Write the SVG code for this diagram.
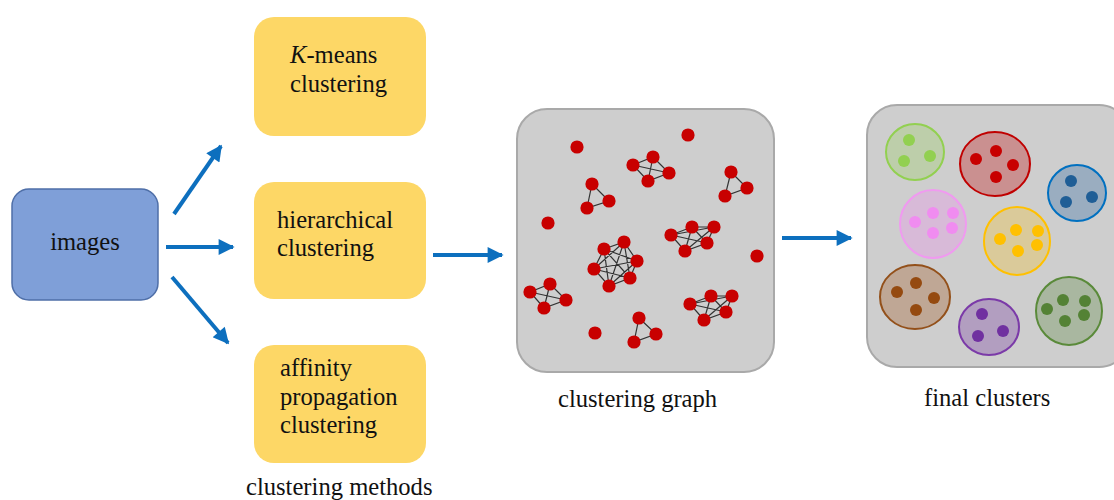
<svg xmlns="http://www.w3.org/2000/svg" width="1114" height="500" viewBox="0 0 1114 500">
  <defs>
    <marker id="arrowhead" viewBox="0 0 10 10" refX="9" refY="5" markerWidth="4.4" markerHeight="4" orient="auto" markerUnits="strokeWidth">
      <path d="M0,0 L10,5 L0,10 Z" fill="#0d6fbe"/>
    </marker>
    <style>
      .lbl { font-family: "Liberation Serif", "Times New Roman", serif; font-size: 24.6px; fill: #111; }
      .method { fill: #fdd766; }
      .flow { stroke: #0d6fbe; stroke-width: 4; fill: none; marker-end: url(#arrowhead); }
      .panel { fill: #cecece; stroke: #a9a9a9; stroke-width: 2; }
      .edge { stroke: #333; stroke-width: 1.2; fill: none; }
      .node { fill: #c80000; }
    </style>
  </defs>

  <!-- input node -->
  <g id="images">
    <rect x="12" y="189" width="146" height="111" rx="17" fill="#7f9fd8" stroke="#4f6fa8" stroke-width="1.5"/>
    <text class="lbl" x="85" y="250" text-anchor="middle">images</text>
  </g>

  <!-- clustering method nodes -->
  <g id="kmeans">
    <rect class="method" x="254" y="17" width="172" height="119" rx="20"/>
    <text class="lbl" x="290" y="63"><tspan font-style="italic">K</tspan>-means</text>
    <text class="lbl" x="290" y="92">clustering</text>
  </g>
  <g id="hierarchical">
    <rect class="method" x="254" y="182" width="172" height="117" rx="20"/>
    <text class="lbl" x="277" y="228">hierarchical</text>
    <text class="lbl" x="277" y="256">clustering</text>
  </g>
  <g id="affinity">
    <rect class="method" x="254" y="345" width="172" height="118" rx="20"/>
    <text class="lbl" x="280" y="376">affinity</text>
    <text class="lbl" x="280" y="405">propagation</text>
    <text class="lbl" x="280" y="433">clustering</text>
  </g>
  <text class="lbl" x="246" y="495">clustering methods</text>

  <!-- connectors -->
  <g id="connectors">
    <line class="flow" x1="174" y1="214" x2="221" y2="146"/>
    <line class="flow" x1="166" y1="247" x2="233" y2="247"/>
    <line class="flow" x1="172" y1="277" x2="228" y2="343"/>
    <line class="flow" x1="433" y1="255" x2="502" y2="255"/>
    <line class="flow" x1="782" y1="238" x2="851" y2="238"/>
  </g>

  <!-- clustering graph -->
  <g id="clustering-graph">
    <rect class="panel" x="517" y="109" width="257" height="263" rx="30"/>
    <g id="graph-edges">
      <!-- top four-clique -->
      <path class="edge" d="M633,165 L653,157 L669,173 L648,181 Z M633,165 L669,173 M653,157 L648,181"/>
      <!-- triangles -->
      <path class="edge" d="M592,184 L609,201 L587,208 Z"/>
      <path class="edge" d="M731,172 L747,188 L725,196 Z"/>
      <path class="edge" d="M639,318 L656,334 L634,342 Z"/>
      <!-- right five-clique -->
      <path class="edge" d="M671,235 L692,227 L714,227 L707,243 L685,251 Z M671,235 L714,227 M671,235 L707,243 M692,227 L707,243 M692,227 L685,251 M714,227 L685,251"/>
      <!-- central six-clique -->
      <path class="edge" d="M604,249 L624,242 L637,261 L630,278 L609,286 L594,269 Z M604,249 L637,261 M604,249 L630,278 M604,249 L609,286 M624,242 L630,278 M624,242 L609,286 M624,242 L594,269 M637,261 L609,286 M637,261 L594,269 M630,278 L594,269"/>
      <!-- lower-left four-clique -->
      <path class="edge" d="M530,292 L550,284 L566,300 L544,308 Z M530,292 L566,300 M550,284 L544,308"/>
      <!-- lower-right five-clique -->
      <path class="edge" d="M690,304 L711,296 L732,296 L726,312 L704,320 Z M690,304 L732,296 M690,304 L726,312 M711,296 L726,312 M711,296 L704,320 M732,296 L704,320"/>
    </g>
    <g id="graph-nodes">
      <circle class="node" cx="577" cy="147" r="6.6"/>
      <circle class="node" cx="688" cy="135" r="6.6"/>
      <circle class="node" cx="548" cy="223" r="6.6"/>
      <circle class="node" cx="757" cy="256" r="6.6"/>
      <circle class="node" cx="595" cy="333" r="6.6"/>

      <circle class="node" cx="633" cy="165" r="6.6"/>
      <circle class="node" cx="653" cy="157" r="6.6"/>
      <circle class="node" cx="669" cy="173" r="6.6"/>
      <circle class="node" cx="648" cy="181" r="6.6"/>

      <circle class="node" cx="592" cy="184" r="6.6"/>
      <circle class="node" cx="609" cy="201" r="6.6"/>
      <circle class="node" cx="587" cy="208" r="6.6"/>

      <circle class="node" cx="731" cy="172" r="6.6"/>
      <circle class="node" cx="747" cy="188" r="6.6"/>
      <circle class="node" cx="725" cy="196" r="6.6"/>

      <circle class="node" cx="671" cy="235" r="6.6"/>
      <circle class="node" cx="692" cy="227" r="6.6"/>
      <circle class="node" cx="714" cy="227" r="6.6"/>
      <circle class="node" cx="707" cy="243" r="6.6"/>
      <circle class="node" cx="685" cy="251" r="6.6"/>

      <circle class="node" cx="604" cy="249" r="6.6"/>
      <circle class="node" cx="624" cy="242" r="6.6"/>
      <circle class="node" cx="637" cy="261" r="6.6"/>
      <circle class="node" cx="630" cy="278" r="6.6"/>
      <circle class="node" cx="609" cy="286" r="6.6"/>
      <circle class="node" cx="594" cy="269" r="6.6"/>

      <circle class="node" cx="530" cy="292" r="6.6"/>
      <circle class="node" cx="550" cy="284" r="6.6"/>
      <circle class="node" cx="566" cy="300" r="6.6"/>
      <circle class="node" cx="544" cy="308" r="6.6"/>

      <circle class="node" cx="639" cy="318" r="6.6"/>
      <circle class="node" cx="656" cy="334" r="6.6"/>
      <circle class="node" cx="634" cy="342" r="6.6"/>

      <circle class="node" cx="690" cy="304" r="6.6"/>
      <circle class="node" cx="711" cy="296" r="6.6"/>
      <circle class="node" cx="732" cy="296" r="6.6"/>
      <circle class="node" cx="726" cy="312" r="6.6"/>
      <circle class="node" cx="704" cy="320" r="6.6"/>
    </g>
  </g>
  <text class="lbl" x="558" y="407">clustering graph</text>

  <!-- final clusters -->
  <g id="final-clusters">
    <rect class="panel" x="867" y="105" width="262" height="262" rx="30"/>
    <g id="cluster-lightgreen">
      <ellipse cx="915" cy="152" rx="29" ry="28" fill="#92d050" fill-opacity="0.28" stroke="#92d050" stroke-width="2"/>
      <g fill="#92d050"><circle cx="909" cy="140" r="6"/><circle cx="904" cy="161" r="6"/><circle cx="930" cy="156" r="6"/></g>
    </g>
    <g id="cluster-red">
      <ellipse cx="995" cy="164" rx="35" ry="32" fill="#c00000" fill-opacity="0.3" stroke="#c00000" stroke-width="2"/>
      <g fill="#c80000"><circle cx="996" cy="151" r="6"/><circle cx="976" cy="159" r="6"/><circle cx="1013" cy="165" r="6"/><circle cx="996" cy="177" r="6"/></g>
    </g>
    <g id="cluster-blue">
      <ellipse cx="1077" cy="193" rx="29" ry="28" fill="#2060a0" fill-opacity="0.3" stroke="#0070c0" stroke-width="2"/>
      <g fill="#1f5e96"><circle cx="1071" cy="181" r="6"/><circle cx="1066" cy="202" r="6"/><circle cx="1092" cy="197" r="6"/></g>
    </g>
    <g id="cluster-pink">
      <ellipse cx="933" cy="224" rx="33" ry="34" fill="#f08cf0" fill-opacity="0.3" stroke="#f09af0" stroke-width="2"/>
      <g fill="#f08cf0"><circle cx="915" cy="222" r="6"/><circle cx="933" cy="213" r="6"/><circle cx="953" cy="213" r="6"/><circle cx="952" cy="228" r="6"/><circle cx="933" cy="233" r="6"/></g>
    </g>
    <g id="cluster-yellow">
      <ellipse cx="1017" cy="241" rx="33" ry="34" fill="#ffc000" fill-opacity="0.25" stroke="#ffc000" stroke-width="2"/>
      <g fill="#ffc000"><circle cx="1000" cy="239" r="6"/><circle cx="1016" cy="230" r="6"/><circle cx="1038" cy="231" r="6"/><circle cx="1037" cy="245" r="6"/><circle cx="1018" cy="251" r="6"/></g>
    </g>
    <g id="cluster-brown">
      <ellipse cx="915" cy="297" rx="35" ry="32" fill="#9a4c10" fill-opacity="0.3" stroke="#93501a" stroke-width="2"/>
      <g fill="#954a10"><circle cx="897" cy="292" r="6"/><circle cx="916" cy="283" r="6"/><circle cx="934" cy="298" r="6"/><circle cx="916" cy="310" r="6"/></g>
    </g>
    <g id="cluster-purple">
      <ellipse cx="989" cy="327" rx="30" ry="28" fill="#7030a0" fill-opacity="0.3" stroke="#7b3aa8" stroke-width="2"/>
      <g fill="#7030a0"><circle cx="982" cy="314" r="6"/><circle cx="978" cy="336" r="6"/><circle cx="1003" cy="331" r="6"/></g>
    </g>
    <g id="cluster-darkgreen">
      <ellipse cx="1069" cy="311" rx="33" ry="34" fill="#548235" fill-opacity="0.3" stroke="#5a8a3a" stroke-width="2"/>
      <g fill="#548235"><circle cx="1047" cy="309" r="6"/><circle cx="1063" cy="300" r="6"/><circle cx="1085" cy="301" r="6"/><circle cx="1084" cy="315" r="6"/><circle cx="1065" cy="321" r="6"/></g>
    </g>
  </g>
  <text class="lbl" x="924" y="406">final clusters</text>
</svg>
